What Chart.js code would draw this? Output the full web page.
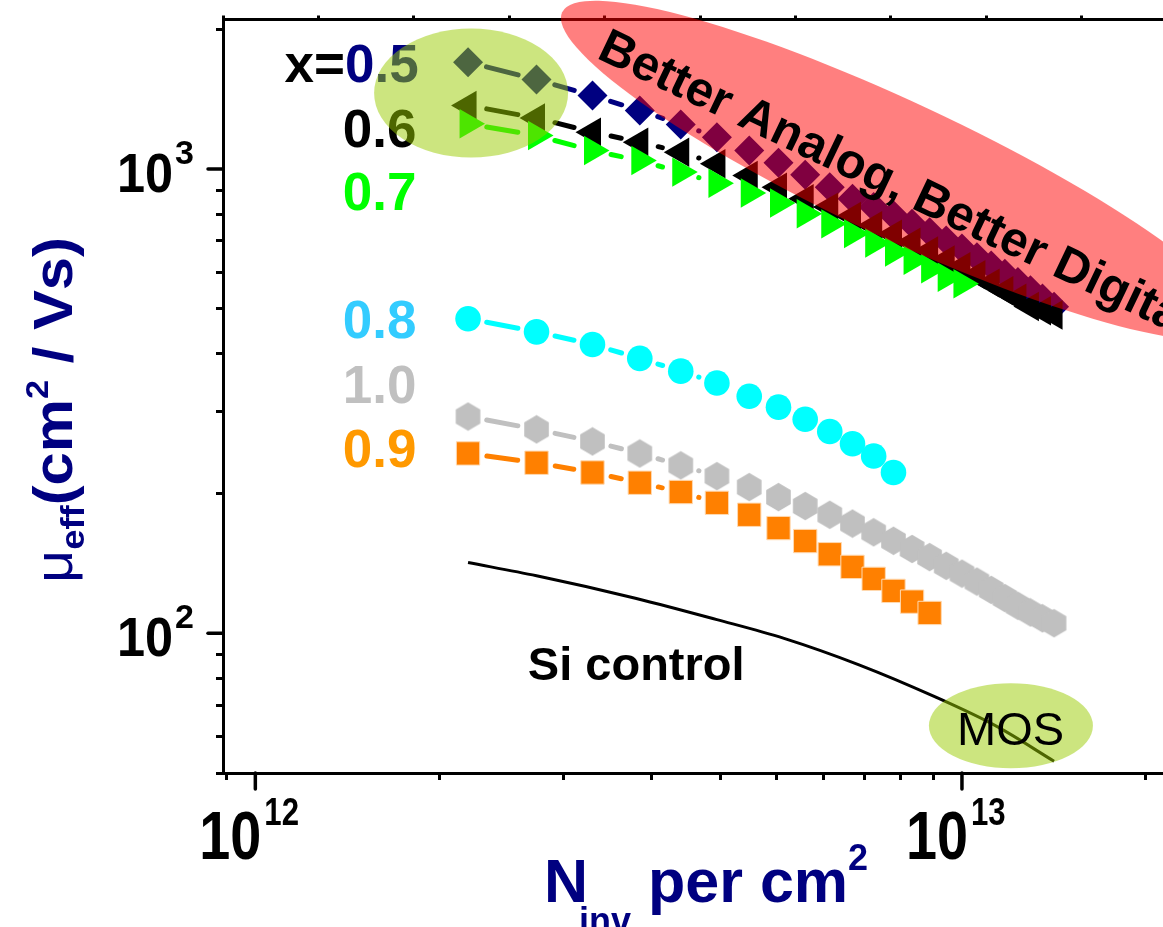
<!DOCTYPE html>
<html>
<head>
<meta charset="utf-8">
<title>Effective mobility vs inversion charge</title>
<script src="https://cdn.jsdelivr.net/npm/chart.js@4.4.1/dist/chart.umd.min.js"></script>
<style>
    html, body { margin: 0; padding: 0; background: #fff; overflow: hidden; }
    #wrap { width: 1163px; height: 927px; overflow: hidden; }
    canvas { display: block; }
</style>
</head>
<body>
<div id="wrap"><canvas id="chart" width="1300" height="927"></canvas></div>
<script>
// Inversion charge (per cm^2) at which the mobility was measured
const nInv = [2.0e12, 2.5e12, 3.0e12, 3.5e12, 4.0e12, 4.5e12, 5.0e12, 5.5e12, 6.0e12, 6.5e12, 7.0e12, 7.5e12,
              8.0e12, 8.5e12, 9.0e12, 9.5e12, 10.0e12, 10.5e12, 11.0e12, 11.5e12, 12.0e12, 12.5e12, 13.0e12, 13.5e12];

// Effective mobility (cm^2/Vs) for each composition x
const mu05 = [1699, 1559, 1440, 1337, 1247, 1171, 1096, 1032, 972, 914, 863, 828, 795, 762, 731, 702, 674, 646, 620, 595, 571, 548, 526, 505];
const mu06 = [1371, 1288, 1201, 1143, 1087, 1027, 969, 914, 863, 828, 790, 755, 724, 696, 666, 637, 616, 592, 568, 547, 527, 506, 495, 485];
const mu07 = [1252, 1181, 1096, 1043, 985, 932, 888, 845, 801, 762, 726, 693, 663, 636, 610, 585, 566];
const mu08 = [476, 446, 419, 391, 367, 346, 324, 307, 289, 272, 256, 241, 222];
const mu09 = [244, 233, 222, 211, 201.5, 191, 180, 168.5, 158, 148, 139, 131, 123.4, 117, 110.6];
const mu10 = [293, 275, 259, 244, 230, 218, 206.5, 196.5, 188, 180, 172.3, 165, 158.2, 151.9, 145.9, 139.7,
              134.4, 129.2, 124, 119.1, 114.6, 110.9, 107.7, 105.1];

// Si control (MOS) reference curve
const siN  = [2.0e12, 2.5e12, 3.45e12, 4.5e12, 5.6e12, 7.15e12, 9.15e12, 11.2e12, 13.5e12];
const siMu = [142, 133, 119, 107, 97.5, 85.5, 73, 63, 53];

// Axis ticks
const xMinorTicks = [0.91e12, 1.82e12, 2.73e12, 3.64e12, 4.55e12, 5.46e12, 6.37e12, 7.28e12, 8.19e12, 9.1e12, 18.2e12];
const xMajorTicks = [1e12, 1e13];
const xMajorExp = ['12', '13'];
const yMinorTicks = [50, 60, 70, 80, 90, 200, 300, 400, 500, 600, 700, 800, 900, 2000];
const yMajorTicks = [1e2, 1e3];
const yMajorExp = ['2', '3'];

const FONT = "'Liberation Sans', Arial, sans-serif";
const NAVY = '#000080';

function points(xs, ys) {
    return ys.map((y, i) => ({ x: xs[i], y: y }));
}

// Grey hexagon marker for the x=1.0 curve
function hexagonImage(r, color) {
    const w = Math.round(Math.sqrt(3) * r) + 2;
    const h = Math.round(2 * r) + 2;
    const c = document.createElement('canvas');
    c.width = w;
    c.height = h;
    const g = c.getContext('2d');
    g.fillStyle = color;
    g.beginPath();
    for (let k = 0; k < 6; k++) {
        const a = Math.PI / 3 * k - Math.PI / 2;
        const px = w / 2 + r * Math.cos(a);
        const py = h / 2 + r * Math.sin(a);
        if (k === 0) g.moveTo(px, py); else g.lineTo(px, py);
    }
    g.closePath();
    g.fill();
    return c;
}

// Annotations placed in data coordinates
const seriesLabels = [
    { parts: [['x=', '#000000'], ['0.5', NAVY]], x: 1.10e12, y: 1537 },
    { parts: [['0.6', '#000000']], x: 1.33e12, y: 1113 },
    { parts: [['0.7', '#00FF00']], x: 1.33e12, y: 815 },
    { parts: [['0.8', '#33CCFF']], x: 1.33e12, y: 432 },
    { parts: [['1.0', '#C0C0C0']], x: 1.33e12, y: 314 },
    { parts: [['0.9', '#FF9900']], x: 1.33e12, y: 228 },
    { parts: [['Si control', '#000000']], x: 2.43e12, y: 79.2, size: 47 }
];
const highlights = [
    { x: 2.02e12, y: 1458, rx: 97, ry: 64.5, angle: 0, color: 'rgba(153, 204, 0, 0.5)' },
    { x: 1.173e13, y: 63.2, rx: 82, ry: 42.5, angle: 0, color: 'rgba(153, 204, 0, 0.5)' },
    { x: 8.17e12, y: 993, rx: 373, ry: 68, angle: 25.1, color: 'rgba(255, 0, 0, 0.5)' }
];

function drawText(ctx, str, x, y, font, color, sx) {
    sx = sx || 1;
    ctx.save();
    ctx.font = font;
    ctx.fillStyle = color;
    ctx.textAlign = 'left';
    ctx.textBaseline = 'alphabetic';
    const w = ctx.measureText(str).width * sx;
    ctx.translate(x, y);
    ctx.scale(sx, 1);
    ctx.fillText(str, 0, 0);
    ctx.restore();
    return w;
}

// Line segments between markers, stopping short of each symbol
const gapLinePlugin = {
    id: 'gapLines',
    beforeDatasetDraw(chart, args) {
        const ds = chart.data.datasets[args.index];
        if (!ds.gapLine) return;
        const pts = args.meta.data;
        const ctx = chart.ctx;
        const gap = 19;
        ctx.save();
        ctx.strokeStyle = ds.pointBackgroundColor;
        ctx.lineWidth = 5;
        ctx.lineCap = 'round';
        for (let i = 0; i < pts.length - 1; i++) {
            const a = pts[i], b = pts[i + 1];
            const dx = b.x - a.x, dy = b.y - a.y;
            const d = Math.hypot(dx, dy);
            if (d - 2 * gap < -1) continue;
            const ux = dx / d, uy = dy / d;
            const len = Math.max(d - 2 * gap, 0.2);
            const sx = a.x + ux * (d - len) / 2, sy = a.y + uy * (d - len) / 2;
            ctx.beginPath();
            ctx.moveTo(sx, sy);
            ctx.lineTo(sx + ux * len, sy + uy * len);
            ctx.stroke();
        }
        ctx.restore();
    }
};

const annotationPlugin = {
    id: 'annotations',
    afterDatasetsDraw(chart) {
        const ctx = chart.ctx;
        const xs = chart.scales.x, ys = chart.scales.y;

        seriesLabels.forEach(lab => {
            let px = xs.getPixelForValue(lab.x);
            const py = ys.getPixelForValue(lab.y);
            lab.parts.forEach(p => {
                px += drawText(ctx, p[0], px, py, 'bold ' + (lab.size || 53) + 'px ' + FONT, p[1]);
            });
        });

        highlights.forEach(h => {
            ctx.save();
            ctx.fillStyle = h.color;
            ctx.beginPath();
            ctx.ellipse(xs.getPixelForValue(h.x), ys.getPixelForValue(h.y), h.rx, h.ry,
                        h.angle * Math.PI / 180, 0, Math.PI * 2);
            ctx.fill();
            ctx.restore();
        });

        // Texts sitting on top of the highlight ellipses
        drawText(ctx, 'MOS', xs.getPixelForValue(9.84e12), ys.getPixelForValue(57.4), '47px ' + FONT, '#000');
        ctx.save();
        ctx.translate(xs.getPixelForValue(3.03e12), ys.getPixelForValue(1739));
        ctx.rotate(25.5 * Math.PI / 180);
        drawText(ctx, 'Better Analog, Better Digital', 0, 0, 'bold 49px ' + FONT, '#000');
        ctx.restore();
    },
    afterDraw(chart) {
        const ctx = chart.ctx;
        const xs = chart.scales.x, ys = chart.scales.y;
        const area = chart.chartArea;

        // long major ticks
        ctx.save();
        ctx.strokeStyle = '#000';
        ctx.lineWidth = 3.5;
        ctx.lineCap = 'round';
        xMajorTicks.forEach(v => {
            const px = xs.getPixelForValue(v);
            ctx.beginPath();
            ctx.moveTo(px, area.bottom);
            ctx.lineTo(px, area.bottom + 16);
            ctx.stroke();
        });
        yMajorTicks.forEach(v => {
            const py = ys.getPixelForValue(v);
            ctx.beginPath();
            ctx.moveTo(area.left, py);
            ctx.lineTo(area.left - 15, py);
            ctx.stroke();
        });
        ctx.restore();

        // tick labels 10^n
        xMajorTicks.forEach((v, i) => {
            const px = xs.getPixelForValue(v);
            ctx.save();
            ctx.font = 'bold 68px ' + FONT;
            const w = ctx.measureText('10').width * 0.82;
            ctx.restore();
            drawText(ctx, '10', px + 6 - w, area.bottom + 86, 'bold 68px ' + FONT, '#000', 0.82);
            drawText(ctx, xMajorExp[i], px + 9, area.bottom + 52, 'bold 38px ' + FONT, '#000', 0.82);
        });
        yMajorTicks.forEach((v, i) => {
            const py = ys.getPixelForValue(v);
            ctx.save();
            ctx.font = 'bold 56px ' + FONT;
            const w = ctx.measureText('10').width * 0.9;
            ctx.restore();
            drawText(ctx, '10', area.left - 50 - w, py + 23, 'bold 56px ' + FONT, '#000', 0.9);
            drawText(ctx, yMajorExp[i], area.left - 48, py - 5, 'bold 34px ' + FONT, '#000');
        });

        // x axis title: N_inv per cm^2
        let tx = 544;
        const base = 902;
        tx += drawText(ctx, 'N', tx, base, 'bold 61px ' + FONT, NAVY);
        tx -= 9;
        tx += drawText(ctx, 'inv', tx, base + 31, 'bold 36px ' + FONT, NAVY);
        tx += drawText(ctx, ' per cm', tx, base, 'bold 61px ' + FONT, NAVY);
        drawText(ctx, '2', tx, base - 32, 'bold 36px ' + FONT, NAVY);

        // y axis title: mu_eff (cm^2 / Vs), rotated
        const parts = [
            ['\u03bc', '54px ', 0],
            ['eff', 'bold 34px ', 12],
            ['(cm', 'bold 56px ', 0],
            ['2', 'bold 32px ', -24],
            [' / Vs)', 'bold 56px ', 0]
        ];
        let total = 0;
        parts.forEach(p => { ctx.save(); ctx.font = p[1] + FONT; total += ctx.measureText(p[0]).width; ctx.restore(); });
        ctx.save();
        ctx.translate(72, 583);
        ctx.rotate(-Math.PI / 2);
        ctx.scale(346 / total, 1);
        let lx = 0;
        parts.forEach(p => { lx += drawText(ctx, p[0], lx, p[2], p[1] + FONT, NAVY); });
        ctx.restore();
    }
};

const tickGrid = (len, w) => ({
    display: true,
    drawOnChartArea: false,
    drawTicks: true,
    tickLength: len,
    tickWidth: w,
    tickColor: '#000'
});

new Chart(document.getElementById('chart'), {
    type: 'scatter',
    data: {
        datasets: [
            {
                label: 'x=0.5', data: points(nInv, mu05), order: 6, gapLine: true,
                pointStyle: 'rectRot', pointRadius: 15, pointBorderWidth: 0,
                pointBackgroundColor: NAVY, pointBorderColor: NAVY
            },
            {
                label: 'x=0.6', data: points(nInv, mu06), order: 5, gapLine: true,
                pointStyle: 'triangle', pointRotation: 270, pointRadius: 17, pointBorderWidth: 0,
                pointBackgroundColor: '#000000', pointBorderColor: '#000000'
            },
            {
                label: 'x=0.7', data: points(nInv, mu07), order: 4, gapLine: true,
                pointStyle: 'triangle', pointRotation: 90, pointRadius: 17, pointBorderWidth: 0,
                pointBackgroundColor: '#00FF00', pointBorderColor: '#00FF00'
            },
            {
                label: 'x=0.8', data: points(nInv, mu08), order: 3, gapLine: true,
                pointStyle: 'circle', pointRadius: 12.8, pointBorderWidth: 0,
                pointBackgroundColor: '#00FFFF', pointBorderColor: '#00FFFF'
            },
            {
                label: 'x=1.0', data: points(nInv, mu10), order: 2, gapLine: true,
                pointStyle: hexagonImage(14.2, '#C0C0C0'), pointRadius: 14, pointBorderWidth: 0,
                pointBackgroundColor: '#C0C0C0', pointBorderColor: '#C0C0C0'
            },
            {
                label: 'x=0.9', data: points(nInv, mu09), order: 1, gapLine: true,
                pointStyle: 'rect', pointRadius: 16.5, pointBorderWidth: 1,
                pointBackgroundColor: '#FF8000', pointBorderColor: '#FFD9B0'
            },
            {
                label: 'Si control', data: points(siN, siMu), order: 0, showLine: true,
                borderColor: '#000000', borderWidth: 3, pointRadius: 0,
                cubicInterpolationMode: 'monotone', fill: false
            }
        ]
    },
    options: {
        responsive: false,
        devicePixelRatio: 1,
        animation: false,
        events: [],
        layout: { padding: { left: 216, top: 15.5, right: 27.6, bottom: 147 } },
        plugins: {
            legend: { display: false },
            tooltip: { enabled: false }
        },
        scales: {
            x: {
                type: 'logarithmic',
                position: 'bottom',
                min: 9e11,
                max: 2.75e13,
                bounds: 'data',
                afterBuildTicks: axis => { axis.ticks = xMinorTicks.map(v => ({ value: v })); },
                ticks: { display: false },
                grid: tickGrid(7, 3),
                border: { display: true, width: 3, color: '#000' }
            },
            xTop: {
                type: 'linear',
                position: 'top',
                min: 0,
                max: 11,
                ticks: { display: false, stepSize: 1 },
                grid: tickGrid(4, 3),
                border: { display: true, width: 3, color: '#000' }
            },
            y: {
                type: 'logarithmic',
                position: 'left',
                min: 50,
                max: 2100,
                bounds: 'data',
                afterBuildTicks: axis => { axis.ticks = yMinorTicks.map(v => ({ value: v })); },
                ticks: { display: false },
                grid: tickGrid(7, 3),
                border: { display: true, width: 3, color: '#000' }
            }
        }
    },
    plugins: [gapLinePlugin, annotationPlugin]
});
</script>
</body>
</html>
